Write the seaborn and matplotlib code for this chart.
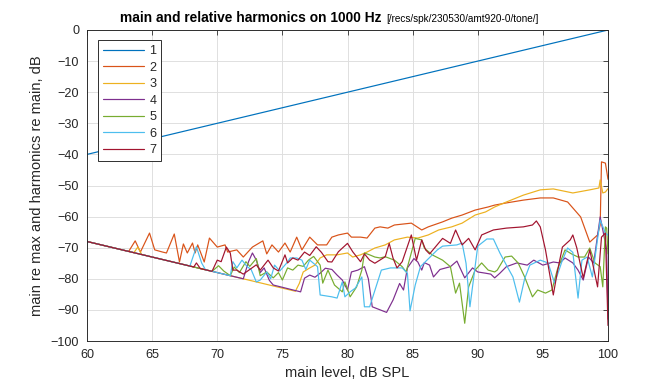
import pandas as pd
import matplotlib
matplotlib.use("Agg")
import matplotlib.pyplot as plt
import seaborn as sns

# main level sweep (dB SPL) and series values (dB)
main_level = [60, 100]
h1 = [-40, 0]

h2 = [(60, -68), (63.2, -71.2), (63.7, -67.8), (64.1, -71.4), (64.8, -65.3), (65.2, -70.7),
      (65.8, -71.4), (66.1, -71.7), (66.7, -65.6), (67.1, -74.6), (67.4, -68.8), (67.7, -71.7),
      (68.1, -68.5), (68.3, -71.7), (68.5, -69.1), (69.0, -74.6), (69.4, -66.9), (70.0, -69.8),
      (70.6, -69.1), (70.8, -71.4), (71.5, -70.7), (72.0, -73.0), (72.7, -69.8), (73.5, -67.8),
      (73.8, -72.0), (74.2, -69.1), (74.7, -71.4), (75.2, -68.5), (75.6, -71.4), (76.1, -66.6),
      (76.5, -70.7), (77.1, -66.6), (77.7, -69.1), (78.4, -69.1), (78.8, -66.6), (79.3, -65.9),
      (80.0, -65.3), (80.3, -66.6), (81.0, -66.6), (81.5, -66.9), (82.1, -63.7), (82.5, -63.3),
      (83.1, -63.7), (83.6, -62.7), (84.9, -62.1), (85.7, -64.3), (86.2, -63.3), (87.3, -61.7),
      (88.0, -60.5), (88.8, -59.5), (89.8, -57.9), (90.8, -56.9), (91.3, -56.3), (92.2, -55.6),
      (93.5, -54.7), (94.8, -54.0), (95.8, -54.0), (96.9, -55.3), (97.9, -60.1), (98.6, -68.2),
      (99.2, -65.9), (99.4, -62.7), (99.5, -42.4), (99.8, -42.8), (100, -48)]

h3 = [(60, -68), (63.6, -71.6), (63.9, -69.8), (64.2, -72.2), (76.0, -84.0), (76.3, -81.5),
      (76.6, -77.8), (77.1, -76.5), (77.5, -75.6), (77.9, -73.3), (78.4, -72.3), (79.2, -72.3),
      (80.0, -71.7), (80.4, -73.0), (81.0, -72.3), (81.5, -71.4), (82.1, -70.1), (82.9, -69.1),
      (83.6, -67.5), (84.6, -66.6), (85.4, -66.9), (86.2, -65.9), (87.0, -64.3), (88.0, -63.3),
      (88.8, -62.1), (89.8, -59.5), (90.6, -58.5), (91.3, -56.9), (92.2, -55.3), (93.5, -53.1),
      (94.8, -51.4), (95.8, -51.1), (97.3, -52.4), (98.6, -51.4), (99.3, -50.8), (99.4, -48.2),
      (99.6, -52.4), (99.8, -52.1), (100, -51.0)]

h4 = [(60, -68), (72.0, -80.0), (72.4, -74.5), (72.7, -71.7), (73.0, -74.0), (73.3, -78.0),
      (73.6, -76.5), (74.0, -80.5), (74.3, -82.0), (76.4, -84.2), (76.7, -79.8), (77.1, -78.8),
      (77.5, -79.5), (77.9, -78.2), (78.3, -76.6), (78.8, -77.0), (79.2, -78.8), (79.6, -80.4),
      (80.0, -83.6), (80.3, -77.8), (80.8, -77.2), (81.3, -76.1), (81.6, -80.0), (81.9, -89.0),
      (83.0, -90.8), (83.5, -86.8), (84.0, -81.5), (84.3, -83.6), (84.6, -76.5), (85.1, -73.5),
      (85.4, -74.6), (85.7, -77.2), (85.9, -74.8), (86.3, -75.6), (86.6, -79.4), (87.1, -77.0),
      (87.9, -76.1), (88.4, -74.3), (89.0, -79.7), (89.6, -76.5), (90.0, -77.8), (90.6, -78.2),
      (91.0, -78.5), (91.3, -79.7), (91.7, -78.2), (92.2, -76.1), (93.0, -74.9), (93.8, -75.6),
      (94.3, -74.0), (95.0, -75.6), (95.8, -74.6), (96.3, -74.9), (96.7, -73.3), (97.3, -74.9),
      (97.7, -77.2), (98.1, -80.4), (98.5, -73.0), (98.9, -74.9), (99.4, -60.1), (99.6, -64.3),
      (99.9, -70.7), (100, -93)]

h5 = [(60, -68), (69.6, -77.6), (70.1, -75.8), (70.5, -77.5), (71.0, -79.0), (71.3, -76.2),
      (71.7, -78.0), (72.2, -74.5), (72.5, -76.0), (73.0, -73.5), (73.3, -79.0), (73.8, -77.8),
      (74.3, -79.7), (74.7, -78.0), (75.0, -80.4), (75.4, -76.5), (75.8, -77.2), (76.2, -75.6),
      (76.6, -76.0), (77.0, -74.0), (77.4, -72.8), (77.9, -75.6), (78.1, -81.4), (78.5, -77.2),
      (79.0, -82.0), (79.6, -84.2), (79.8, -81.0), (80.2, -85.8), (80.7, -82.6), (81.1, -77.2),
      (81.3, -71.7), (81.7, -72.3), (82.1, -73.0), (82.5, -73.3), (82.9, -72.9), (83.6, -74.0),
      (84.2, -76.1), (84.5, -77.8), (85.2, -67.0), (85.7, -67.5), (85.9, -70.1), (86.5, -72.3),
      (87.3, -74.0), (87.9, -76.1), (88.3, -84.6), (88.6, -81.4), (89.0, -94.3), (89.3, -82.6),
      (89.8, -77.2), (90.3, -74.9), (90.8, -77.2), (91.3, -77.8), (91.5, -77.2), (92.1, -73.0),
      (92.6, -72.7), (93.1, -74.9), (93.6, -79.4), (94.2, -85.8), (94.6, -83.6), (95.2, -84.6),
      (95.7, -83.6), (96.1, -77.2), (96.7, -70.7), (97.2, -72.0), (97.7, -73.0), (98.2, -73.0),
      (98.6, -70.1), (99.0, -74.9), (99.4, -76.1), (99.6, -82.6), (99.8, -63.3), (99.9, -63.7),
      (100, -72)]

h6 = [(60, -68), (67.9, -75.9), (68.4, -69.7), (68.8, -74.9), (69.1, -77.1), (71.0, -79.0),
      (71.2, -74.5), (71.5, -76.5), (71.9, -74.0), (72.3, -76.1), (72.6, -77.0), (73.0, -81.0),
      (73.3, -80.4), (73.8, -77.8), (74.1, -80.0), (74.4, -75.6), (74.8, -77.5), (75.4, -74.6),
      (75.6, -73.3), (76.1, -73.3), (76.5, -74.0), (76.8, -77.0), (77.1, -74.0), (77.7, -76.1),
      (77.9, -85.2), (78.8, -85.8), (79.2, -86.2), (79.6, -81.0), (79.8, -85.8), (80.2, -84.2),
      (80.6, -83.0), (81.1, -79.4), (81.3, -89.0), (81.7, -89.0), (82.6, -77.2), (83.3, -76.5),
      (84.2, -76.5), (84.6, -78.2), (84.8, -90.3), (85.2, -82.0), (85.6, -76.1), (86.1, -74.0),
      (86.9, -70.7), (87.3, -69.5), (88.4, -69.1), (88.8, -68.5), (89.1, -75.0), (89.4, -89.0),
      (90.0, -69.5), (90.7, -67.2), (91.2, -67.2), (91.7, -71.7), (92.2, -75.6), (92.7, -79.4),
      (93.2, -87.5), (93.6, -80.0), (94.0, -75.6), (94.8, -74.0), (95.4, -74.9), (95.9, -81.4),
      (96.5, -74.0), (96.9, -70.1), (97.3, -71.5), (97.7, -86.2), (98.0, -74.0), (98.4, -73.0),
      (98.8, -79.4), (99.4, -61.1), (99.8, -65.3), (100, -66)]

h7 = [(60, -68), (68.2, -76.2), (68.4, -74.9), (68.7, -76.7), (69.6, -77.6), (70.0, -74.0),
      (70.3, -74.5), (70.7, -69.8), (71.0, -71.7), (71.2, -77.2), (71.5, -77.2), (72.0, -78.5),
      (72.5, -77.0), (73.0, -75.5), (73.3, -77.2), (73.9, -74.0), (74.3, -76.5), (74.7, -77.5),
      (75.2, -72.3), (75.4, -74.9), (75.8, -73.3), (76.2, -74.0), (76.7, -71.4), (77.1, -72.5),
      (77.6, -69.7), (78.0, -71.5), (78.5, -74.5), (78.8, -74.6), (79.3, -71.3), (80.0, -68.6),
      (80.4, -71.3), (81.0, -74.5), (81.3, -72.0), (81.7, -74.0), (82.1, -75.0), (82.9, -72.9),
      (83.2, -68.6), (83.5, -73.4), (83.8, -76.5), (84.2, -74.5), (84.9, -65.9), (85.3, -74.0),
      (85.7, -67.5), (86.0, -70.7), (86.3, -72.0), (87.3, -67.0), (87.9, -68.6), (88.3, -64.3),
      (88.8, -69.1), (89.3, -67.0), (89.8, -70.7), (90.3, -65.9), (91.2, -64.3), (92.2, -63.7),
      (93.5, -63.3), (94.2, -62.7), (94.5, -61.4), (94.8, -63.3), (95.2, -70.7), (95.6, -80.4),
      (95.8, -85.2), (96.1, -78.0), (96.5, -69.8), (97.1, -67.5), (97.3, -65.9), (97.6, -70.0),
      (98.1, -79.7), (98.6, -70.7), (99.2, -82.6), (99.5, -66.6), (99.8, -65.3), (100, -95)]

names = ['1', '2', '3', '4', '5', '6', '7']
colors = ['#0072BD', '#D95319', '#EDB120', '#7E2F8E', '#77AC30', '#4DBEEE', '#A2142F']

# long form table for seaborn
rows = [(x, y, '1') for x, y in zip(main_level, h1)]
for name, pts in zip(names[1:], [h2, h3, h4, h5, h6, h7]):
    rows += [(x, y, name) for x, y in pts]
df = pd.DataFrame(rows, columns=['level', 'dB', 'harmonic'])

sns.set_style("whitegrid")
plt.rcParams['font.family'] = ['Liberation Sans', 'DejaVu Sans']
txt = '#262626'

fig = plt.figure(figsize=(7, 4), dpi=96)
ax = fig.add_axes([87/672, 43/384, 521/672, 311/384])

sns.lineplot(data=df, x='level', y='dB', hue='harmonic', hue_order=names,
             palette=colors, estimator=None, sort=False, linewidth=0.9, ax=ax)

ax.set_xlim(60, 100)
ax.set_ylim(-100, 0)
ax.set_xticks(range(60, 101, 5))
ax.set_yticks(range(-100, 1, 10))
ax.grid(True, color='#dedede', linewidth=0.7)
for s in ax.spines.values():
    s.set_color(txt)
    s.set_linewidth(0.7)
    s.set_visible(True)
ax.tick_params(direction='in', top=True, right=True, length=4, width=0.6,
               colors=txt, labelsize=9.5, pad=6)
ax.set_xlabel('main level, dB SPL', fontsize=11, color=txt, labelpad=4)
ax.set_ylabel('main re max and harmonics re main, dB', fontsize=11, color=txt, labelpad=5)

handles, labels = ax.get_legend_handles_labels()
leg = ax.legend(handles, labels, loc='upper left', bbox_to_anchor=(0.021, 0.968),
                borderaxespad=0, fontsize=9.5, frameon=True, fancybox=False,
                handlelength=3.2, labelspacing=0.36, handletextpad=0.45,
                borderpad=0.4)
leg.get_frame().set_edgecolor(txt)
leg.get_frame().set_linewidth(0.7)
leg.get_frame().set_alpha(1)
for t in leg.get_texts():
    t.set_color(txt)

fig.text(382/672, 1 - 22/384, 'main and relative harmonics on 1000 Hz',
         ha='right', va='baseline', fontsize=10.3, fontweight='bold', color='black')
fig.text(386/672, 1 - 22/384, '[/recs/spk/230530/amt920-0/tone/]',
         ha='left', va='baseline', fontsize=7.5, color='black')

fig.savefig('out.png', dpi=96, facecolor='white')
